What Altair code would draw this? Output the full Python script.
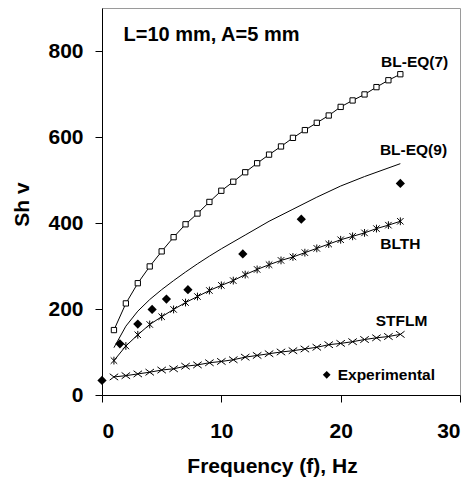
import altair as alt
import pandas as pd

# ---- data ----
f_eq7 = list(range(1, 26))
v_eq7 = [151, 213, 260, 299, 334, 367, 397, 422, 449, 475, 496, 518, 539,
         559, 578, 598, 616, 633, 650, 670, 685, 699, 716, 732, 746]

f_blth = list(range(1, 26))
v_blth = [80, 114, 140, 164, 182, 199, 215, 229, 243, 255, 266, 280, 292,
          303, 313, 321, 331, 341, 351, 361, 369, 377, 387, 395, 404]

f_stflm = list(range(1, 26))
v_stflm = [42, 45, 49, 53, 58, 61, 67, 70, 75, 78, 82, 88, 92, 96, 100,
           103, 107, 111, 117, 120, 124, 129, 133, 136, 141]

f_eq9 = [1, 2, 3, 4, 5, 6, 7, 8, 9, 10, 12, 14, 16, 18, 20, 22, 25]
v_eq9 = [110, 160, 195, 222, 245, 266, 286, 305, 323, 340, 372, 404, 432, 460, 486, 508, 538]

f_exp = [0, 1.5, 3, 4.2, 5.4, 7.2, 11.8, 16.7, 25]
v_exp = [34, 119, 165, 199, 223, 245, 328, 409, 492]

# series labels (placed in data coordinates)
lab_text = ["BL-EQ(7)", "BL-EQ(9)", "BLTH", "STFLM"]
lab_f = [26.2, 26.1, 25.0, 25.1]
lab_v = [774, 570, 351, 173]

note_text = ["L=10 mm, A=5 mm"]
note_f = [1.8]
note_v = [837]

leg_text = ["Experimental"]
leg_f_marker = [18.83]
leg_f_text = [19.75]
leg_v = [47]

FONT = "Liberation Sans"

eq7 = pd.DataFrame({"f": f_eq7, "v": v_eq7})
blth = pd.DataFrame({"f": f_blth, "v": v_blth})
stflm = pd.DataFrame({"f": f_stflm, "v": v_stflm})
eq9 = pd.DataFrame({"f": f_eq9, "v": v_eq9})
exp = pd.DataFrame({"f": f_exp, "v": v_exp})
labs = pd.DataFrame({"t": lab_text, "f": lab_f, "v": lab_v})
note = pd.DataFrame({"t": note_text, "f": note_f, "v": note_v})
leg_m = pd.DataFrame({"f": leg_f_marker, "v": leg_v})
leg_t = pd.DataFrame({"t": leg_text, "f": leg_f_text, "v": leg_v})

xs = alt.Scale(domain=[0, 30], nice=False)
ys = alt.Scale(domain=[0, 900], nice=False)

x_enc = alt.X("f:Q", scale=xs, axis=alt.Axis(
    values=[0, 10, 20, 30], title="Frequency (f), Hz", grid=False,
    tickSize=7, labelPadding=18, titleX=170, titleY=77,
    titleAlign="center", titleBaseline="alphabetic"))
y_enc = alt.Y("v:Q", scale=ys, axis=alt.Axis(
    values=[0, 200, 400, 600, 800], title="Sh ᴠ", grid=False,
    tickSize=7, labelPadding=12, titleX=-74, titleY=196,
    titleAngle=-90, titleAlign="center", titleBaseline="alphabetic"))

def line(df):
    return alt.Chart(df).mark_line(color="black", strokeWidth=1).encode(
        x=x_enc, y=y_enc)

asterisk = "M-1,-1L1,1M-1,1L1,-1M0,-1.2L0,1.2"
xmark = "M-1,-0.75L1,0.75M-1,0.75L1,-0.75"

layers = [
    line(eq7),
    alt.Chart(eq7).mark_point(shape="square", filled=True, fill="white",
                              stroke="black", strokeWidth=1, size=28,
                              opacity=1).encode(x="f:Q", y="v:Q"),
    line(eq9),
    line(blth),
    alt.Chart(blth).mark_point(shape=asterisk, filled=False, stroke="black",
                               strokeWidth=1, size=42, opacity=1).encode(x="f:Q", y="v:Q"),
    line(stflm),
    alt.Chart(stflm).mark_point(shape=xmark, filled=False, stroke="black",
                                strokeWidth=1, size=72, opacity=1).encode(x="f:Q", y="v:Q"),
    alt.Chart(exp).mark_point(shape="diamond", filled=True, fill="black",
                              size=85, opacity=1, strokeWidth=0).encode(x="f:Q", y="v:Q"),
    alt.Chart(leg_m).mark_point(shape="diamond", filled=True, fill="black",
                                size=60, opacity=1, strokeWidth=0).encode(x="f:Q", y="v:Q"),
    alt.Chart(labs).mark_text(font=FONT, fontWeight="bold", fontSize=15.5,
                              align="center", baseline="middle", color="black").encode(
        x="f:Q", y="v:Q", text="t:N"),
    alt.Chart(leg_t).mark_text(font=FONT, fontWeight="bold", fontSize=15.5,
                               align="left", baseline="middle", color="black").encode(
        x="f:Q", y="v:Q", text="t:N"),
    alt.Chart(note).mark_text(font=FONT, fontWeight="bold", fontSize=20,
                              align="left", baseline="middle", color="black").encode(
        x="f:Q", y="v:Q", text="t:N"),
]

chart = alt.layer(*layers).properties(
    width=358, height=387,
    autosize=alt.AutoSizeParams(type="none"),
    padding={"left": 102, "top": 8, "right": 14, "bottom": 88},
    background="white",
).configure_view(
    stroke="#9a9a9a", strokeWidth=1
).configure_axis(
    labelFont=FONT, labelFontWeight="bold", labelFontSize=21, labelColor="black",
    titleFont=FONT, titleFontWeight="bold", titleFontSize=21, titleColor="black",
    domainColor="black", domainWidth=1, tickColor="black", tickWidth=1,
)

chart.save("out.html", embed_options={"renderer": "svg", "actions": False})
